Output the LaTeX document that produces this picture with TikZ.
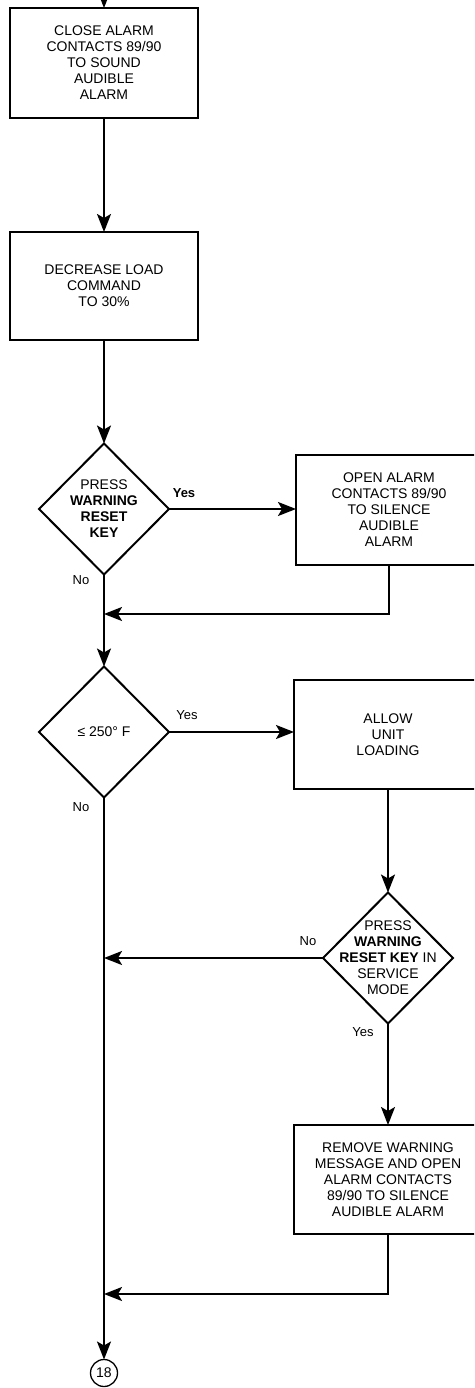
\documentclass[tikz,border=0pt]{standalone}
\usepackage{fontspec}
\setmainfont{Liberation Sans}
\usetikzlibrary{shapes.geometric,arrows.meta}
\begin{document}
\begin{tikzpicture}[x=1pt,y=-1pt,
  every node/.style={inner sep=0pt,outer sep=0pt},
  procbox/.style={draw,line width=2pt,rectangle,align=center,font=\fontsize{14}{16}\selectfont},
  decide/.style={draw,line width=2pt,diamond,minimum width=130pt,minimum height=131pt},
  dtext/.style={align=center,font=\fontsize{14}{16}\selectfont},
  lbl/.style={font=\fontsize{13}{15}\selectfont},
  conn/.style={line width=2pt},
  arr/.style={line width=2pt,-{Stealth[length=18pt,width=14pt,inset=4pt]}}]
\useasboundingbox (0,0) rectangle (474,1388);
\clip (0,0) rectangle (474,1388);
% boxes
\node[procbox,minimum width=188pt,minimum height=110pt] (b1) at (104,63)
  {CLOSE ALARM\\CONTACTS 89/90\\TO SOUND\\AUDIBLE\\ALARM};
\node[procbox,minimum width=188pt,minimum height=108pt] (b2) at (104,286)
  {DECREASE LOAD\\COMMAND\\TO 30\%};
\node[decide] (d1) at (104,509) {};
\node[dtext] (d1t) at (d1) {PRESS\\\textbf{WARNING}\\\textbf{RESET}\\\textbf{KEY}};
\node[procbox,minimum width=186pt,minimum height=110pt] (b3) at (389,510)
  {OPEN ALARM\\CONTACTS 89/90\\TO SILENCE\\AUDIBLE\\ALARM};
\node[decide] (d2) at (104,732) {};
\node[dtext] (d2t) at (d2) {≤ 250° F};
\node[procbox,minimum width=188pt,minimum height=109pt] (b4) at (388,734.5)
  {ALLOW\\UNIT\\LOADING};
\node[decide] (d3) at (388,958) {};
\node[dtext] (d3t) at (d3) {PRESS\\\textbf{WARNING}\\\textbf{RESET KEY} IN\\SERVICE\\MODE};
\node[procbox,minimum width=188pt,minimum height=109pt] (b5) at (388,1179.5)
  {REMOVE WARNING\\MESSAGE AND OPEN\\ALARM CONTACTS\\89/90 TO SILENCE\\AUDIBLE ALARM};
\node[draw,circle,line width=1.3pt,minimum size=27pt,font=\fontsize{14}{16}\selectfont] (c18) at (104,1373) {18};
% labels
\node[lbl,font=\fontsize{13}{15}\bfseries\selectfont] (y1) at (184,493) {Yes};
\node[lbl] (n1) at (81,580) {No};
\node[lbl] (y2) at (187,715) {Yes};
\node[lbl] (n2) at (81,807) {No};
\node[lbl] (n3) at (308,941) {No};
\node[lbl] (y3) at (363,1032) {Yes};
% connectors
\coordinate (top) at (104,-20);
\coordinate (j1) at (104,614);
\coordinate (j2) at (104,1294);
\draw[arr] (top) -- (b1.north);
\draw[arr] (b1) -- (b2);
\draw[arr] (b2) -- (d1);
\draw[arr] (d1.east) -- (d1.east -| b3.west);
\draw[arr] (b3.south) |- (j1);
\draw[conn] (d1.south) -- (j1);
\draw[arr] (j1) -- (d2.north);
\draw[arr] (d2.east) -- (d2.east -| b4.west);
\draw[arr] (b4.south) -- (d3.north);
\draw[arr] (d3.west) -- (d3.west -| d2);
\draw[arr] (d3.south) -- (b5.north);
\draw[arr] (b5.south) |- (j2);
\draw[arr] (d2.south) -- (c18.north);
\end{tikzpicture}
\end{document}
